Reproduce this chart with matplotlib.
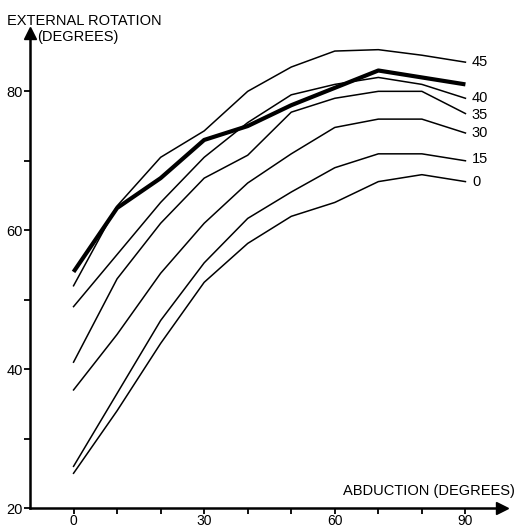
import matplotlib.pyplot as plt
import numpy as np

# abduction angle (degrees) at which each curve was read
abduction = [0, 10, 20, 30, 40, 50, 60, 70, 80, 90]

# external rotation (degrees) for each labelled curve
rot_45 = [52, 63.5, 70.5, 74.3, 80, 83.5, 85.8, 86, 85.2, 84.2]
rot_40 = [49, 56.5, 64, 70.5, 75.5, 79.5, 81, 82, 81, 79]
rot_35 = [41, 53, 61, 67.5, 70.8, 77, 79, 80, 80, 76.8]
rot_30 = [37, 45, 53.8, 61, 66.8, 71, 74.8, 76, 76, 74]
rot_15 = [26, 36.5, 47, 55.3, 61.7, 65.5, 69, 71, 71, 70]
rot_0 = [25, 34, 43.7, 52.5, 58.1, 62, 64, 67, 68, 67]
# bold curve (no label)
rot_bold = [54, 63.2, 67.5, 73, 75, 78, 80.5, 83, 82, 81]

curves = [("45", rot_45), ("40", rot_40), ("35", rot_35),
          ("30", rot_30), ("15", rot_15), ("0", rot_0)]
label_y = {"45": 84.2, "40": 79.0, "35": 76.6, "30": 74.0, "15": 70.2, "0": 67.0}

plt.rcParams["font.family"] = ["Liberation Sans", "DejaVu Sans"]

fig = plt.figure(figsize=(5.16, 5.29), dpi=100)
ax = fig.add_axes([30 / 516, 21 / 529, 472 / 516, 475 / 529])

for name, ys in curves:
    ax.plot(abduction, ys, color="black", lw=1.1, solid_joinstyle="round")
    ax.text(91.5, label_y[name], name, fontsize=10.5, va="center", ha="left",
            clip_on=False)
ax.plot(abduction, rot_bold, color="black", lw=3.0, solid_capstyle="butt")

ax.set_xlim(-10, 98.4)
ax.set_ylim(20, 88.4)

for s in ("top", "right"):
    ax.spines[s].set_visible(False)
for s in ("left", "bottom"):
    ax.spines[s].set_linewidth(1.8)

ax.set_xticks([0, 30, 60, 90])
ax.set_xticks(np.arange(0, 100, 10), minor=True)
ax.set_yticks([20, 40, 60, 80])
ax.set_yticks([30, 50, 70], minor=True)
ax.tick_params(which="both", direction="out", width=1.3, length=4)
ax.tick_params(axis="y", labelsize=10.5, pad=1)
ax.tick_params(axis="x", labelsize=10, pad=0.5)

# arrow heads on axes
ax.plot([0], [1], marker="^", ms=8, color="black", transform=ax.transAxes,
        clip_on=False)
ax.plot([1], [0], marker=">", ms=8, color="black", transform=ax.transAxes,
        clip_on=False)

fig.text(7 / 516, 1 - 25 / 529, "EXTERNAL ROTATION", fontsize=10.5,
         ha="left", va="baseline")
fig.text(37 / 516, 1 - 41 / 529, "(DEGREES)", fontsize=10.5,
         ha="left", va="baseline")
fig.text(515 / 516, 1 - 495 / 529, "ABDUCTION (DEGREES)", fontsize=10.5,
         ha="right", va="baseline")

fig.savefig("out.png", dpi=100)
